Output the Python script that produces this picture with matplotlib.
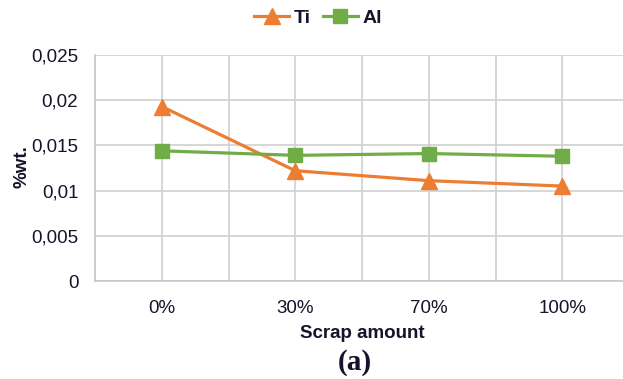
import matplotlib.pyplot as plt

categories = ['0%', '30%', '70%', '100%']
ti = [0.0193, 0.0122, 0.0111, 0.0105]
al = [0.0144, 0.0139, 0.0141, 0.0138]
yticks = [0, 0.005, 0.01, 0.015, 0.02, 0.025]
ytick_labels = ['0', '0,005', '0,01', '0,015', '0,02', '0,025']

plt.rcParams['font.family'] = ['Liberation Sans', 'DejaVu Sans']
txt = '#14142a'

fig = plt.figure(figsize=(6.23, 3.79), dpi=100)
# plot area runs past the right edge, as in the original crop
ax = fig.add_axes([95 / 623, 1 - 281 / 379, 534 / 623, 226 / 379])

x = list(range(len(categories)))
ax.plot(x, ti, color='#ED7D31', lw=2.3, marker='^', ms=11, label='Ti', zorder=3)
ax.plot(x, al, color='#70AD47', lw=2.3, marker='s', ms=10.5, label='Al', zorder=3)

ax.set_xlim(-0.5, 3.5)
ax.set_ylim(0, 0.025)
ax.set_xticks(x)
ax.set_xticklabels(categories, fontsize=13.5, color=txt)
ax.set_xticks([v + 0.5 for v in [-1] + x], minor=True)
ax.set_yticks(yticks)
ax.set_yticklabels(ytick_labels, fontsize=13.5, color=txt)
ax.tick_params(which='both', length=0)
ax.tick_params(axis='x', pad=14)
ax.tick_params(axis='y', pad=12)

ax.grid(True, which='both', color='#d0d0d0', lw=1.2)
ax.set_axisbelow(True)
for side in ['top', 'right']:
    ax.spines[side].set_visible(False)
for side in ['left', 'bottom']:
    ax.spines[side].set_color('#c8c8c8')
    ax.spines[side].set_linewidth(1.2)

xl = ax.set_xlabel('Scrap amount', fontsize=13.5, fontweight='bold', color=txt)
xl.set_va('center')
ax.xaxis.set_label_coords(0.5, (281 - 333) / 226)
yl = ax.set_ylabel('%wt.', fontsize=13.5, fontweight='bold', color=txt)
yl.set_va('center')
ax.yaxis.set_label_coords((22 - 95) / 534, (281 - 167) / 226)

leg = fig.legend(loc='center', bbox_to_anchor=(318 / 623, 1 - 18 / 379), ncol=2,
                 frameon=False, prop={'size': 14, 'weight': 'bold'},
                 handlelength=1.8, columnspacing=0.6, handletextpad=0.25)
for t in leg.get_texts():
    t.set_color(txt)

fig.text(355 / 623, 1 - 363 / 379, '(a)', ha='center', va='center', color=txt,
         fontsize=21, fontweight='bold', family=['Liberation Serif', 'DejaVu Serif'])

fig.savefig('out.png', dpi=100)
